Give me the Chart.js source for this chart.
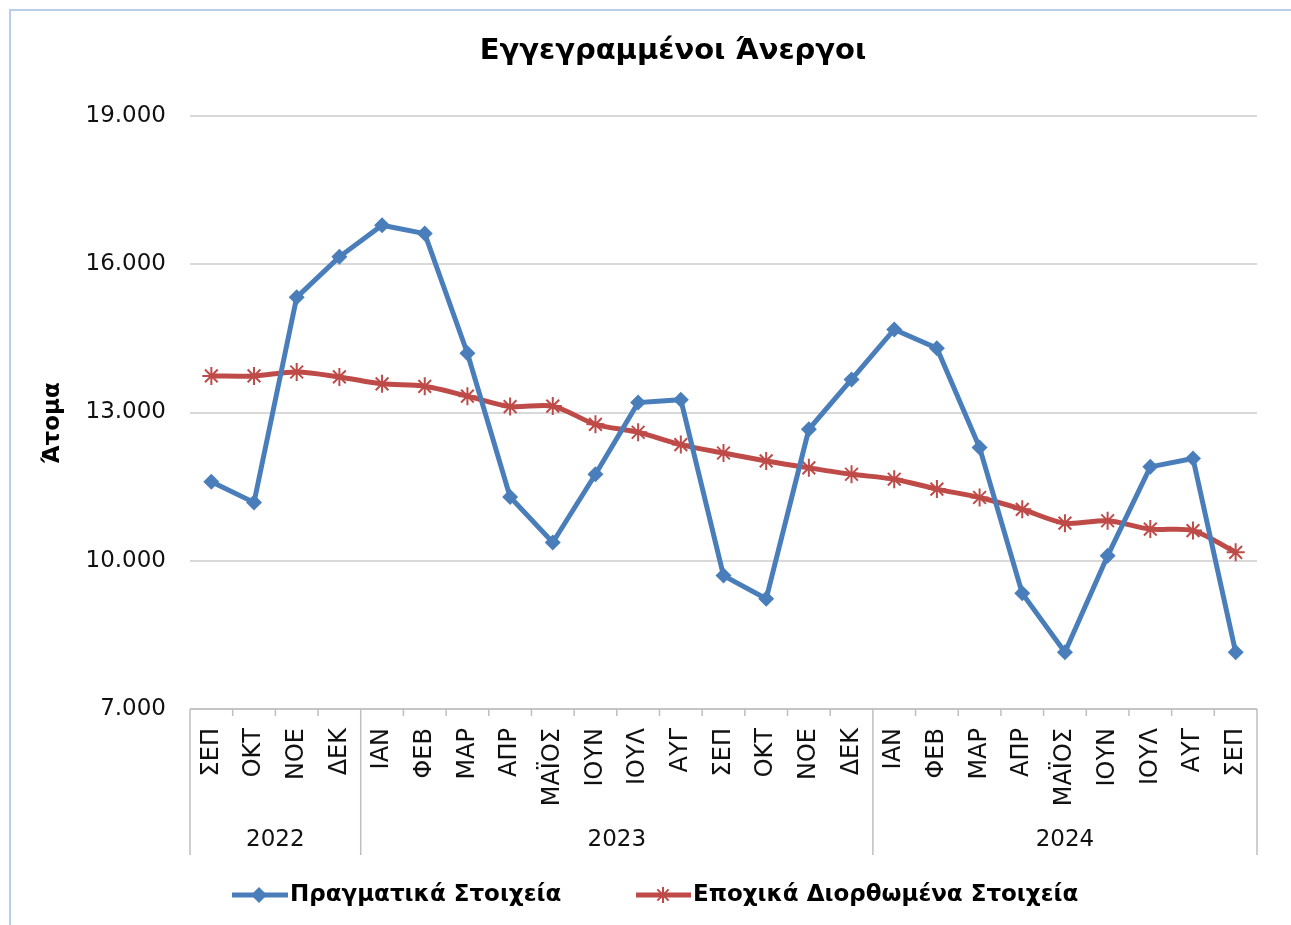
<!DOCTYPE html>
<html>
<head>
<meta charset="utf-8">
<script src="https://cdn.jsdelivr.net/npm/chart.js@4"></script>
<style>
  body { margin: 0; background: #fff; }
  #wrap { position: relative; width: 1291px; height: 925px; }
  #frame { position: absolute; left: 9px; top: 9px; right: 0; bottom: 0; border-top: 2px solid #b8cde8; border-left: 2px solid #b8cde8; pointer-events: none; }
</style>
</head>
<body>
<div id="wrap">
  <canvas id="grafico"></canvas>
  <div id="frame"></div>
</div>
<script>
// ΔΕΔΟΜΕΝΑ
const mines = ['ΣΕΠ','ΟΚΤ','ΝΟΕ','ΔΕΚ','ΙΑΝ','ΦΕΒ','ΜΑΡ','ΑΠΡ','ΜΑΪΟΣ','ΙΟΥΝ','ΙΟΥΛ','ΑΥΓ',
               'ΣΕΠ','ΟΚΤ','ΝΟΕ','ΔΕΚ','ΙΑΝ','ΦΕΒ','ΜΑΡ','ΑΠΡ','ΜΑΪΟΣ','ΙΟΥΝ','ΙΟΥΛ','ΑΥΓ','ΣΕΠ'];
const eti = ['2022','2023','2024'];
const minesAnaEtos = [4, 12, 9];

const pragmatika = [11600, 11180, 15330, 16150, 16790, 16620, 14200, 11290, 10370, 11750, 13200, 13260,
                    9700, 9230, 12660, 13670, 14680, 14300, 12290, 9340, 8150, 10100, 11900, 12070, 8150];
const epoxika = [13740, 13740, 13820, 13720, 13580, 13530, 13330, 13120, 13130, 12760, 12600, 12350,
                 12180, 12020, 11880, 11750, 11650, 11450, 11280, 11040, 10760, 10810, 10640, 10610, 10170];

const yTicks = [7000, 10000, 13000, 16000, 19000];

const azul = '#4a7ebb';
const vermelho = '#be4b48';
const fonte = "'DejaVu Sans', Verdana, sans-serif";

function formatar(v) {
    return v.toLocaleString('en-US').replace(',', '.');
}

// desenha titulo, eixo x, legenda e titulo do eixo y
const eixosPlugin = {
    id: 'eixos',
    afterDraw(chart) {
        const ctx = chart.ctx;
        const area = chart.chartArea;
        const xs = chart.scales.x;
        const passo = (area.right - area.left) / mines.length;

        ctx.save();
        // titulo
        ctx.fillStyle = '#000';
        ctx.font = 'bold 29px ' + fonte;
        ctx.textAlign = 'center';
        ctx.textBaseline = 'middle';
        ctx.fillText('Εγγεγραμμένοι Άνεργοι', 673, 51);

        ctx.strokeStyle = '#bfbfbf';
        ctx.lineWidth = 1.5;
        ctx.beginPath();
        ctx.moveTo(area.left, area.bottom);
        ctx.lineTo(area.right, area.bottom);
        for (let i = 0; i <= mines.length; i++) {
            const x = area.left + i * passo;
            ctx.moveTo(x, area.bottom);
            ctx.lineTo(x, area.bottom + 7);
        }
        let acc = 0;
        const limites = [0];
        minesAnaEtos.forEach(n => { acc += n; limites.push(acc); });
        limites.forEach(b => {
            const x = area.left + b * passo;
            ctx.moveTo(x, area.bottom);
            ctx.lineTo(x, area.bottom + 146);
        });
        ctx.stroke();

        ctx.fillStyle = '#111';
        ctx.font = '24px ' + fonte;
        mines.forEach((m, i) => {
            const x = xs.getPixelForValue(i);
            ctx.save();
            ctx.translate(x, area.bottom + 19);
            ctx.rotate(-Math.PI / 2);
            ctx.textAlign = 'right';
            ctx.textBaseline = 'middle';
            ctx.fillText(m, 0, 0);
            ctx.restore();
        });

        ctx.font = '23px ' + fonte;
        ctx.textAlign = 'center';
        ctx.textBaseline = 'middle';
        eti.forEach((e, k) => {
            const x = area.left + (limites[k] + limites[k + 1]) / 2 * passo;
            ctx.fillText(e, x, area.bottom + 131);
        });

        // titulo eixo y
        ctx.save();
        ctx.translate(53, 423);
        ctx.rotate(-Math.PI / 2);
        ctx.font = 'bold 23px ' + fonte;
        ctx.fillStyle = '#000';
        ctx.fillText('Άτομα', 0, 0);
        ctx.restore();

        // legenda
        const ly = 895;
        ctx.lineWidth = 5;
        ctx.strokeStyle = azul;
        ctx.beginPath(); ctx.moveTo(232, ly); ctx.lineTo(288, ly); ctx.stroke();
        ctx.fillStyle = azul;
        ctx.beginPath();
        ctx.moveTo(259, ly - 8); ctx.lineTo(267, ly); ctx.lineTo(259, ly + 8); ctx.lineTo(251, ly);
        ctx.closePath(); ctx.fill();

        ctx.strokeStyle = vermelho;
        ctx.beginPath(); ctx.moveTo(636, ly); ctx.lineTo(691, ly); ctx.stroke();
        ctx.lineWidth = 2;
        ctx.beginPath();
        for (let k = 0; k < 4; k++) {
            const a = k * Math.PI / 4;
            ctx.moveTo(663 - 8 * Math.cos(a), ly - 8 * Math.sin(a));
            ctx.lineTo(663 + 8 * Math.cos(a), ly + 8 * Math.sin(a));
        }
        ctx.stroke();

        ctx.fillStyle = '#000';
        ctx.font = 'bold 23px ' + fonte;
        ctx.textAlign = 'left';
        ctx.fillText('Πραγματικά Στοιχεία', 290, ly);
        ctx.fillText('Εποχικά Διορθωμένα Στοιχεία', 693, ly);
        ctx.restore();
    }
};

const ctxGrafico = document.getElementById('grafico');
new Chart(ctxGrafico, {
    type: 'line',
    data: {
        labels: mines,
        datasets: [
            {
                label: 'Πραγματικά Στοιχεία',
                data: pragmatika,
                borderColor: azul,
                backgroundColor: azul,
                borderWidth: 5,
                pointStyle: 'rectRot',
                pointRadius: 8,
                pointBorderWidth: 0,
                tension: 0
            },
            {
                label: 'Εποχικά Διορθωμένα Στοιχεία',
                data: epoxika,
                borderColor: vermelho,
                backgroundColor: vermelho,
                borderWidth: 5,
                pointStyle: 'star',
                pointRadius: 9,
                pointBorderWidth: 2,
                tension: 0.3
            }
        ]
    },
    options: {
        responsive: true,
        maintainAspectRatio: false,
        animation: false,
        layout: { padding: { right: 34, top: 116, bottom: 0, left: 0 } },
        plugins: {
            legend: { display: false },
            tooltip: { enabled: false },
            title: { display: false }
        },
        scales: {
            x: {
                offset: true,
                grid: { display: false },
                border: { display: false },
                ticks: { display: false },
                afterFit(scale) { scale.height = 216; }
            },
            y: {
                min: 7000,
                max: 19000,
                afterBuildTicks(scale) { scale.ticks = yTicks.map(v => ({ value: v })); },
                grid: { color: '#d9d9d9', lineWidth: 2, drawTicks: false },
                border: { display: false },
                ticks: {
                    padding: 24,
                    color: '#111',
                    font: { family: fonte, size: 23 },
                    callback: v => formatar(v)
                },
                afterFit(scale) { scale.width = 190; }
            }
        }
    },
    plugins: [eixosPlugin]
});
</script>
</body>
</html>
